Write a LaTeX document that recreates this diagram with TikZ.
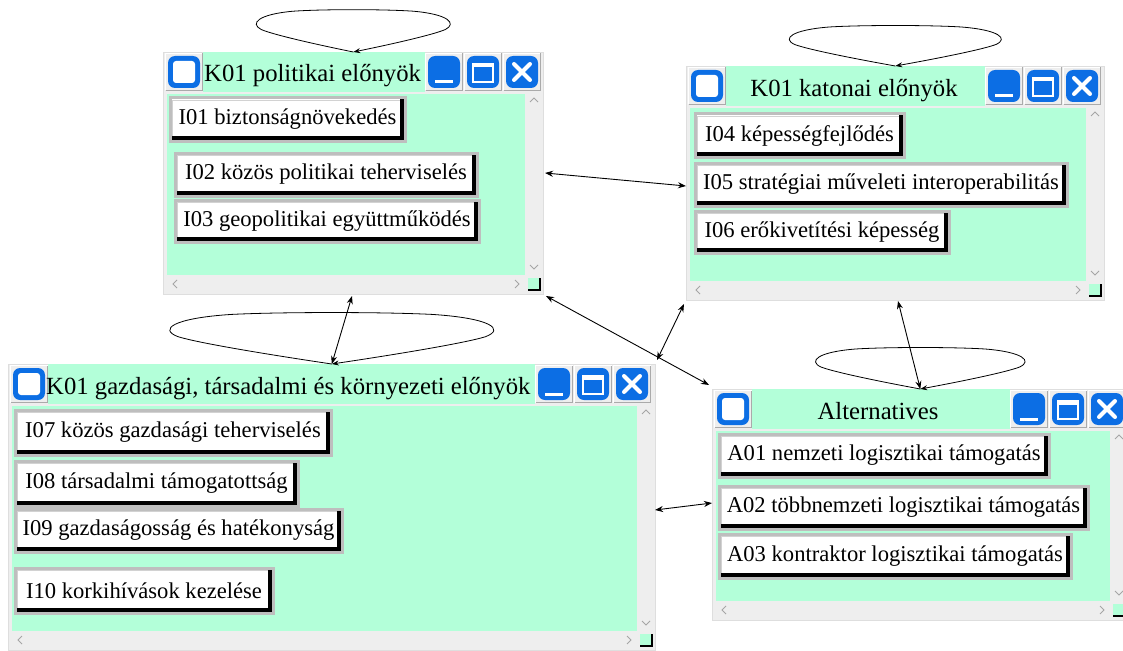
\documentclass[tikz,border=0pt]{standalone}
\usepackage{fontspec}
\setmainfont{Liberation Serif}
\usetikzlibrary{arrows.meta}

\definecolor{mint}{RGB}{179,255,217}
\definecolor{winbg}{RGB}{238,238,238}
\definecolor{winedge}{RGB}{222,222,222}
\definecolor{winblue}{RGB}{12,110,228}
\definecolor{btnframe}{RGB}{170,170,170}
\definecolor{itemedge}{RGB}{190,190,190}
\definecolor{scrollmark}{RGB}{165,165,165}

\tikzset{
  x=1pt, y=-1pt,
  winframe/.style={rectangle, fill=winbg, draw=winedge, line width=0.6pt, inner sep=0pt},
  titletext/.style={font=\fontsize{24.7}{26}\selectfont, inner sep=0pt},
  itembox/.style={rectangle, draw=itemedge, line width=3pt, fill=white, inner sep=0pt,
    font=\fontsize{22.6}{24}\selectfont,
    path picture={
      \fill[black] ([yshift=5.5pt]path picture bounding box.south west) rectangle (path picture bounding box.south east);
      \fill[black] ([xshift=-5.5pt]path picture bounding box.north east) rectangle (path picture bounding box.south east);
      \draw[itemedge!70, line width=1pt, fill=none] ([xshift=2.5pt,yshift=5.5pt]path picture bounding box.south west) |- ([xshift=-5.5pt,yshift=-2.5pt]path picture bounding box.north east);
    }},
  link/.style={{Stealth[length=8pt,width=6pt]}-{Stealth[length=8pt,width=6pt]}, line width=0.9pt},
  selfloop/.style={-{Stealth[length=7pt,width=5pt]}, line width=0.8pt},
  tbtn/.pic={
    \fill[winbg] (-19,-19) rectangle (19,19);
    \draw[white, line width=1pt] (-18.5,18.5) |- (18.5,-18.5);
    \draw[btnframe, line width=1pt] (-18.5,18.5) -| (18.5,-18.5);
    \fill[winblue, rounded corners=7pt] (-16,-16) rectangle (16,16);
  },
  iconbtn/.pic={
    \pic {tbtn};
    \fill[white, rounded corners=3pt] (-11,-11) rectangle (11,11);
  },
  minbtn/.pic={
    \pic {tbtn};
    \fill[white] (-9,8.5) rectangle (9,11.5);
  },
  maxbtn/.pic={
    \pic {tbtn};
    \draw[white, line width=2.4pt] (-10,-8) rectangle (10,10);
    \fill[white] (-11.2,-9.2) rectangle (11.2,-4.5);
  },
  closebtn/.pic={
    \pic {tbtn};
    \draw[white, line width=4pt, line cap=round] (-8,-8) -- (8,8) (-8,8) -- (8,-8);
  },
}

% a program window: #1 name, #2 left, #3 top, #4 right, #5 bottom,
% #6 title, #7 title anchor, #8 title x, #9 left edge of the button group
\newcommand\appwindow[9]{%
  \node[winframe, anchor=north west, minimum width={#4pt-#2pt}, minimum height={#5pt-#3pt}] (#1) at (#2,#3) {};
  \fill[mint] ({#2+40},#3) rectangle (#9,{#3+40});
  \fill[mint] ({#2+4},{#3+42}) rectangle ({#4-18},{#5-19});
  \pic at ({#2+21},{#3+20}) {iconbtn};
  \node[titletext, anchor=#7] (#1-title) at (#8,{#3+30}) {#6};
  \pic at ({#9+19},{#3+20}) {minbtn};
  \pic at ({#9+58},{#3+20}) {maxbtn};
  \pic at ({#9+97},{#3+20}) {closebtn};
  \draw[scrollmark, line width=0.8pt] ({#4-13},{#3+50}) -- ({#4-9},{#3+46}) -- ({#4-5},{#3+50});
  \draw[scrollmark, line width=0.8pt] ({#4-13},{#5-29}) -- ({#4-9},{#5-25}) -- ({#4-5},{#5-29});
  \draw[scrollmark, line width=0.8pt] ({#2+14},{#5-14}) -- ({#2+10},{#5-10}) -- ({#2+14},{#5-6});
  \draw[scrollmark, line width=0.8pt] ({#4-28},{#5-14}) -- ({#4-24},{#5-10}) -- ({#4-28},{#5-6});
  \fill[mint] ({#4-15},{#5-16}) rectangle ({#4-3},{#5-4});
  \draw[black, line width=1.2pt] ({#4-15},{#5-4}) -- ({#4-3},{#5-4}) -- ({#4-3},{#5-16});
}

% an entry button inside a window: #1 name, #2..#5 outer box, #6 text
\newcommand\itembtn[6]{%
  \node[itembox, anchor=north west, minimum width={#4pt-#2pt-3pt}, minimum height={#5pt-#3pt-3pt}] (#1) at ({#2+1.5},{#3+1.5}) {#6};
}

% self loop above a window: #1 window, #2 horizontal scale, #3 vertical scale
\newcommand\winloop[3]{%
  \begin{scope}[shift={(#1.north)}, xscale=#2, yscale=#3]
    \draw[selfloop] (0,0) .. controls (-40,-8) and (-80,-17) .. (-92,-22)
      .. controls (-104,-28) and (-95,-37) .. (-60,-40)
      .. controls (-30,-42) and (30,-42) .. (60,-40)
      .. controls (95,-37) and (104,-28) .. (92,-22)
      .. controls (80,-17) and (40,-8) .. (0,0);
  \end{scope}
}

\begin{document}
\begin{tikzpicture}
  \useasboundingbox[fill=white] (0,0) rectangle (1123,650);

  % windows
  \appwindow{w1}{163}{52}{543}{294}{K01 politikai előnyök}{base west}{204}{425}
  \appwindow{w2}{686}{66}{1104}{300}{K01 katonai előnyök}{base}{854}{985}
  \appwindow{w3}{8}{364}{655}{650}{K01 gazdasági, társadalmi és környezeti előnyök}{base west}{46}{535}
  \appwindow{w4}{712}{389}{1128}{620}{Alternatives}{base}{878}{1010}

  % entries
  \itembtn{i01}{167}{95}{405}{141}{I01 biztonságnövekedés}
  \itembtn{i02}{172}{150}{477}{196}{I02 közös politikai teherviselés}
  \itembtn{i03}{172}{197}{479}{242}{I03 geopolitikai együttműködés}

  \itembtn{i04}{692}{111}{904}{157}{I04 képességfejlődés}
  \itembtn{i05}{692}{160}{1067}{206}{I05 stratégiai műveleti interoperabilitás}
  \itembtn{i06}{692}{208}{949}{253}{I06 erőkivetítési képesség}

  \itembtn{i07}{12}{407}{331}{455}{I07 közös gazdasági teherviselés}
  \itembtn{i08}{12}{458}{298}{506}{I08 társadalmi támogatottság}
  \itembtn{i09}{12}{506}{342}{552}{I09 gazdaságosság és hatékonyság}
  \itembtn{i10}{12}{565}{273}{613}{I10 korkihívások kezelése}

  \itembtn{a01}{716}{431}{1049}{477}{A01 nemzeti logisztikai támogatás}
  \itembtn{a02}{716}{483}{1088}{529}{A02 többnemzeti logisztikai támogatás}
  \itembtn{a03}{716}{531}{1071}{578}{A03 kontraktor logisztikai támogatás}

  % self loops
  \winloop{w1}{1}{1.02}
  \winloop{w2}{1.093}{0.976}
  \winloop{w3}{1.67}{1.24}
  \winloop{w4}{1.08}{1.0}

  % link end points
  \coordinate (w1-e) at (545,173);
  \coordinate (w2-w) at (686,186);
  \coordinate (w1-s) at (352,296);
  \coordinate (w1-c) at (546,296);
  \coordinate (w4-nw) at (709,385);
  \coordinate (w2-sw) at (684,304);
  \coordinate (w3-ne) at (657,360);
  \coordinate (w2-s) at (898,301);
  \coordinate (w3-e) at (655,510);
  \coordinate (w4-w) at (712,503);

  % links
  \draw[link] (w1-e) -- (w2-w);
  \draw[link] (w1-s) -- (w3.north);
  \draw[link] (w1-c) -- (w4-nw);
  \draw[link] (w2-sw) -- (w3-ne);
  \draw[link] (w2-s) -- (w4.north);
  \draw[link] (w3-e) -- (w4-w);
\end{tikzpicture}
\end{document}
